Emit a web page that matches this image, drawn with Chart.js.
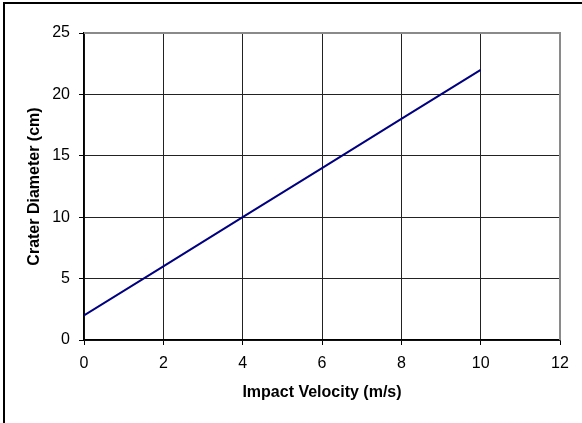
<!DOCTYPE html>
<html>
<head>
<meta charset="utf-8">
<script src="https://cdn.jsdelivr.net/npm/chart.js@4.4.0/dist/chart.umd.min.js"></script>
<style>
  html, body { margin: 0; padding: 0; background: #fff; overflow: hidden; }
  canvas { display: block; }
</style>
</head>
<body>
<canvas id="craterChart" width="582" height="423"></canvas>
<script>
const velocity = [0, 2, 4, 6, 8, 10];
const diameter = [2, 6, 10, 14, 18, 22];
const xTicks = [0, 2, 4, 6, 8, 10, 12];
const yTicks = [0, 5, 10, 15, 20, 25];

const FONT = "'Liberation Sans', Arial, sans-serif";

// outer chart frame (only left/top fall inside the crop) and gray top/right edge of the plot
const frames = {
    id: 'frames',
    beforeDraw(chart) {
        const { ctx } = chart;
        ctx.save();
        ctx.fillStyle = '#fff';
        ctx.fillRect(0, 0, chart.width, chart.height);
        ctx.strokeStyle = '#000';
        ctx.lineWidth = 2;
        ctx.beginPath();
        ctx.moveTo(4, chart.height);
        ctx.lineTo(4, 3);
        ctx.lineTo(chart.width, 3);
        ctx.stroke();
        ctx.restore();
    },
    afterDraw(chart) {
        const { ctx, chartArea: a } = chart;
        ctx.save();
        ctx.strokeStyle = '#8a8a8a';
        ctx.lineWidth = 2;
        ctx.beginPath();
        ctx.moveTo(a.left, a.top);
        ctx.lineTo(a.right, a.top);
        ctx.lineTo(a.right, a.bottom);
        ctx.stroke();
        ctx.restore();
    }
};

const ctx = document.getElementById('craterChart').getContext('2d');

new Chart(ctx, {
    type: 'scatter',
    data: {
        datasets: [{
            data: velocity.map((v, i) => ({ x: v, y: diameter[i] })),
            showLine: true,
            borderColor: '#000080',
            borderWidth: 2,
            pointRadius: 0,
            fill: false
        }]
    },
    options: {
        responsive: false,
        animation: false,
        layout: { padding: { left: 0, top: 33, right: 22, bottom: 0 } },
        plugins: {
            legend: { display: false },
            tooltip: { enabled: false }
        },
        scales: {
            x: {
                type: 'linear',
                min: 0,
                max: 12,
                afterFit: (scale) => { scale.height = 83; },
                afterBuildTicks: (scale) => { scale.ticks = xTicks.map(v => ({ value: v })); },
                grid: { color: '#222', lineWidth: 1, tickLength: 5, tickColor: '#000' },
                border: { color: '#000', width: 1.5 },
                ticks: { color: '#000', padding: 9, maxRotation: 0, font: { family: FONT, size: 16 } },
                title: {
                    display: true,
                    text: 'Impact Velocity (m/s)',
                    color: '#000',
                    padding: { top: 0, bottom: 21 },
                    font: { family: FONT, size: 16, weight: 'bold' }
                }
            },
            y: {
                type: 'linear',
                min: 0,
                max: 25,
                afterFit: (scale) => { scale.width = 84; },
                afterBuildTicks: (scale) => { scale.ticks = yTicks.map(v => ({ value: v })); },
                grid: { color: '#222', lineWidth: 1, tickLength: 5, tickColor: '#000' },
                border: { color: '#000', width: 1.5 },
                ticks: { color: '#000', padding: 9, font: { family: FONT, size: 16 } },
                title: {
                    display: true,
                    text: 'Crater Diameter (cm)',
                    color: '#000',
                    padding: { top: 25, bottom: 0 },
                    font: { family: FONT, size: 16, weight: 'bold' }
                }
            }
        }
    },
    plugins: [frames]
});
</script>
</body>
</html>
